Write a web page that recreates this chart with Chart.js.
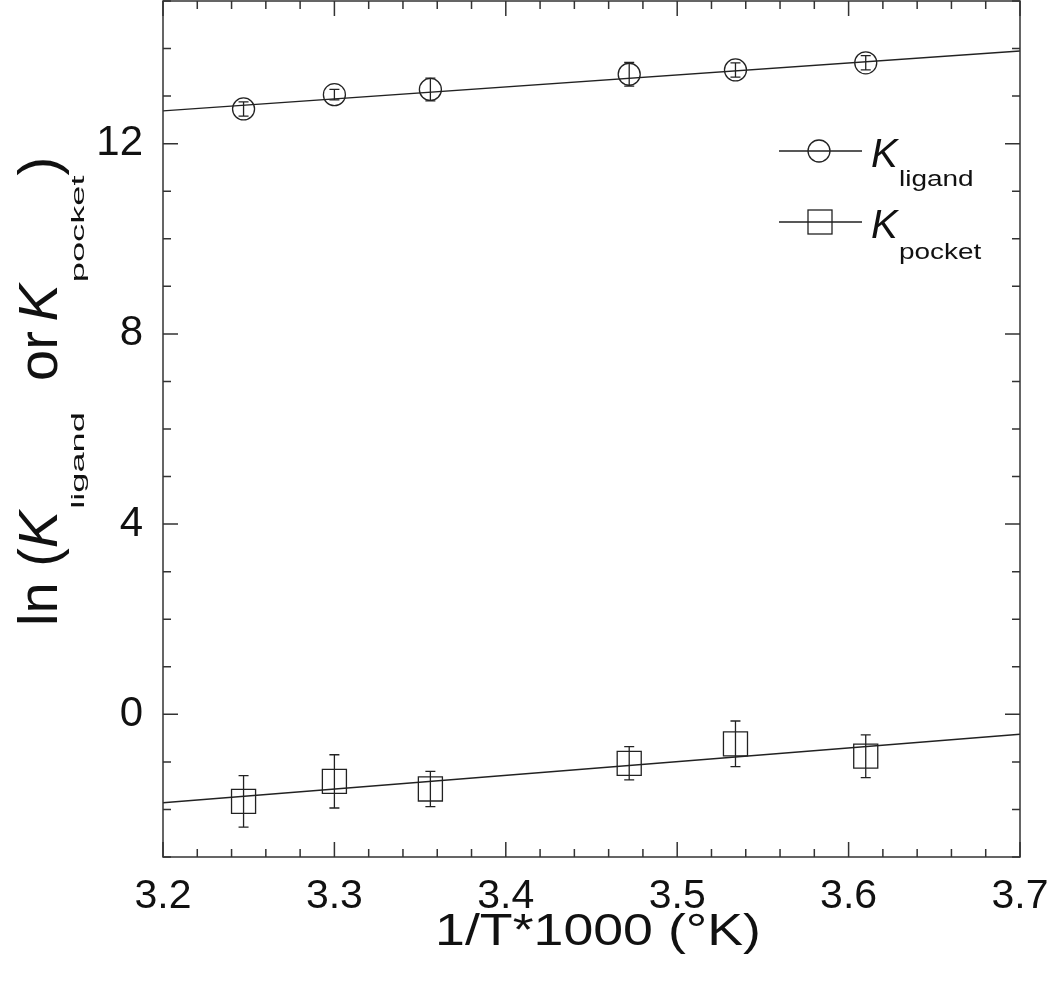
<!DOCTYPE html>
<html>
<head>
<meta charset="utf-8">
<script src="https://cdn.jsdelivr.net/npm/chart.js@4.4.0/dist/chart.umd.min.js"></script>
<style>
  html, body { margin: 0; padding: 0; background: #fff; }
  #caja { width: 1050px; height: 990px; }
</style>
</head>
<body>
<div id="caja"><canvas id="grafico" width="1050" height="990"></canvas></div>
<script>
var inversoT = [3.247, 3.300, 3.356, 3.472, 3.534, 3.610];

var lnLigand = [12.73, 13.03, 13.14, 13.46, 13.55, 13.70];
var errLigand = [0.15, 0.11, 0.24, 0.25, 0.15, 0.15];

var lnPocket = [-1.83, -1.41, -1.57, -1.03, -0.62, -0.88];
var errPocket = [0.54, 0.56, 0.37, 0.35, 0.48, 0.45];

// rectas de ajuste (extremos)
var ajusteX = [3.2, 3.7];
var ajusteLigand = [12.69, 13.95];
var ajustePocket = [-1.86, -0.42];

var ticksX = [3.2, 3.3, 3.4, 3.5, 3.6, 3.7];
var ticksY = [0, 4, 8, 12];

var fuente = '"Liberation Sans", Arial, sans-serif';
var negro = '#222';

function puntos(xs, ys) {
  return xs.map(function (x, i) { return { x: x, y: ys[i] }; });
}

// texto con estiramiento horizontal, devuelve el ancho dibujado
function parte(c, txt, font, sx, x, y) {
  c.save();
  c.translate(x, y);
  c.scale(sx, 1);
  c.font = font;
  c.fillText(txt, 0, 0);
  var w = c.measureText(txt).width * sx;
  c.restore();
  return w;
}

var marco = {
  id: 'marco',
  afterDraw: function (chart) {
    var c = chart.ctx, a = chart.chartArea;
    var sx = chart.scales.x, sy = chart.scales.y;
    c.save();
    c.strokeStyle = '#333';
    c.lineWidth = 1.5;
    c.strokeRect(a.left, a.top, a.right - a.left, a.bottom - a.top);
    c.beginPath();
    for (var i = 0; i <= 25; i++) {
      var px = sx.getPixelForValue(3.2 + i * 0.02);
      var l = (i % 5 === 0) ? 15 : 8;
      c.moveTo(px, a.bottom); c.lineTo(px, a.bottom - l);
      c.moveTo(px, a.top); c.lineTo(px, a.top + l);
    }
    for (var v = -3; v <= 15; v++) {
      var py = sy.getPixelForValue(v);
      var m = (v % 4 === 0) ? 15 : 8;
      c.moveTo(a.left, py); c.lineTo(a.left + m, py);
      c.moveTo(a.right, py); c.lineTo(a.right - m, py);
    }
    c.stroke();
    c.restore();
  }
};

var barrasError = {
  id: 'barrasError',
  afterDatasetsDraw: function (chart) {
    var c = chart.ctx, sx = chart.scales.x, sy = chart.scales.y;
    c.save();
    c.strokeStyle = negro;
    c.lineWidth = 1.3;
    [[lnLigand, errLigand], [lnPocket, errPocket]].forEach(function (s) {
      s[0].forEach(function (v, i) {
        var px = sx.getPixelForValue(inversoT[i]);
        var arriba = sy.getPixelForValue(v + s[1][i]);
        var abajo = sy.getPixelForValue(v - s[1][i]);
        c.beginPath();
        c.moveTo(px, arriba); c.lineTo(px, abajo);
        c.moveTo(px - 5, arriba); c.lineTo(px + 5, arriba);
        c.moveTo(px - 5, abajo); c.lineTo(px + 5, abajo);
        c.stroke();
      });
    });
    c.restore();
  }
};

var textos = {
  id: 'textos',
  afterDraw: function (chart) {
    var c = chart.ctx;
    c.save();
    c.fillStyle = '#111';
    c.textBaseline = 'alphabetic';
    c.textAlign = 'left';

    // titulo eje x
    c.font = '44px ' + fuente;
    var tx = '1/T*1000 (\u00B0K)';
    var anchoX = c.measureText(tx).width * 1.22;
    parte(c, tx, '44px ' + fuente, 1.22, 598 - anchoX / 2, 945);

    // titulo eje y, girado
    c.save();
    c.translate(57, 626);
    c.rotate(-Math.PI / 2);
    var x = 0;
    var normal = '56px ' + fuente, cursiva = 'italic 56px ' + fuente, sub = '18.5px ' + fuente;
    x += parte(c, 'ln (', normal, 1, x, 0);
    x += parte(c, 'K', cursiva, 1, x, 0);
    x += parte(c, 'ligand', sub, 1.96, x + 2, 26.5) + 2;
    x += parte(c, '  or ', normal, 1, x, 0) - 6;
    x += parte(c, 'K', cursiva, 1, x, 0);
    x += parte(c, 'pocket', sub, 1.96, x + 2, 26.5) + 2;
    parte(c, ')', normal, 1, x, 0);
    c.restore();

    // leyenda
    c.strokeStyle = negro;
    c.lineWidth = 1.3;
    c.beginPath();
    c.moveTo(779, 151); c.lineTo(862, 151);
    c.moveTo(779, 222); c.lineTo(862, 222);
    c.stroke();
    c.beginPath();
    c.arc(819, 151, 11, 0, Math.PI * 2);
    c.stroke();
    c.strokeRect(808, 210, 24, 24);
    parte(c, 'K', 'italic 40px ' + fuente, 1, 871, 167);
    parte(c, 'ligand', '21.5px ' + fuente, 1.3, 899, 185.5);
    parte(c, 'K', 'italic 40px ' + fuente, 1, 871, 238);
    parte(c, 'pocket', '21.5px ' + fuente, 1.3, 899, 258.5);
    c.restore();
  }
};

var lienzo = document.getElementById('grafico').getContext('2d');

var grafico = new Chart(lienzo, {
  type: 'scatter',
  data: {
    datasets: [
      {
        label: 'K ligand',
        data: puntos(inversoT, lnLigand),
        pointStyle: 'circle',
        pointRadius: 11,
        borderColor: negro,
        borderWidth: 1.3,
        backgroundColor: 'rgba(0,0,0,0)'
      },
      {
        label: 'K pocket',
        data: puntos(inversoT, lnPocket),
        pointStyle: 'rect',
        pointRadius: 17,
        borderColor: negro,
        borderWidth: 1.3,
        backgroundColor: 'rgba(0,0,0,0)'
      },
      {
        label: 'ajuste ligand',
        data: puntos(ajusteX, ajusteLigand),
        showLine: true,
        pointRadius: 0,
        borderColor: negro,
        borderWidth: 1.4
      },
      {
        label: 'ajuste pocket',
        data: puntos(ajusteX, ajustePocket),
        showLine: true,
        pointRadius: 0,
        borderColor: negro,
        borderWidth: 1.4
      }
    ]
  },
  options: {
    responsive: false,
    animation: false,
    devicePixelRatio: 1,
    layout: { autoPadding: false, padding: { top: 1, right: 30, left: 0, bottom: 0 } },
    plugins: { legend: { display: false }, tooltip: { enabled: false } },
    scales: {
      x: {
        type: 'linear',
        min: 3.2,
        max: 3.7,
        afterBuildTicks: function (s) { s.ticks = ticksX.map(function (v) { return { value: v }; }); },
        afterFit: function (s) { s.height = 133; s.paddingLeft = 0; s.paddingRight = 0; },
        grid: { display: false, drawTicks: false },
        border: { display: false },
        ticks: {
          padding: 15,
          color: '#111',
          maxRotation: 0,
          autoSkip: false,
          font: { family: fuente, size: 41 },
          callback: function (v) { return Number(v).toFixed(1); }
        }
      },
      y: {
        type: 'linear',
        min: -3,
        max: 15,
        afterBuildTicks: function (s) { s.ticks = ticksY.map(function (v) { return { value: v }; }); },
        afterFit: function (s) { s.width = 163; s.paddingTop = 0; s.paddingBottom = 0; },
        grid: { display: false, drawTicks: false },
        border: { display: false },
        ticks: {
          padding: 20,
          color: '#111',
          autoSkip: false,
          font: { family: fuente, size: 42 },
          callback: function (v) { return String(v); }
        }
      }
    }
  },
  plugins: [marco, barrasError, textos]
});
</script>
</body>
</html>
